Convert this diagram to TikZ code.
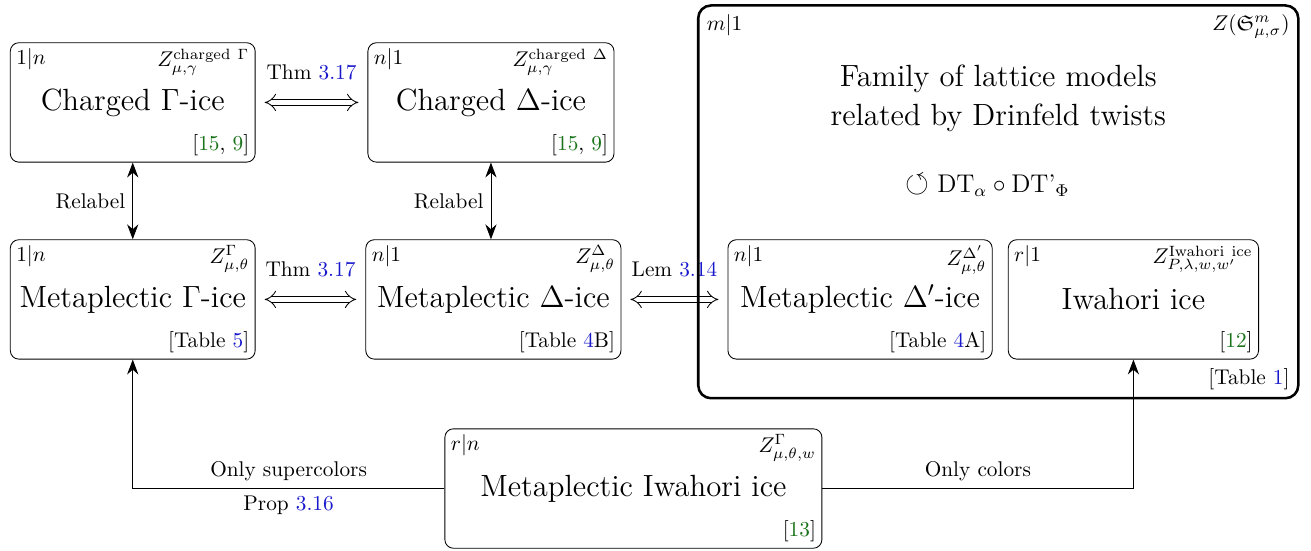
\documentclass[tikz,border=0pt]{standalone}
\usepackage{amsmath,amssymb}
\usetikzlibrary{arrows.meta}
\definecolor{refblue}{rgb}{0.1,0.1,0.8}
\definecolor{citegreen}{rgb}{0.1,0.45,0.1}
\newcommand{\lnk}[1]{\textcolor{refblue}{#1}}
\newcommand{\cit}[1]{\textcolor{citegreen}{#1}}
\begin{document}
\begin{tikzpicture}
            [
                model/.style={rectangle, draw=black, rounded corners, minimum height=1.97cm, font=\Large},
                corner/.style={inner sep=2.8pt},
                equiv/.style={double, double distance=2.5pt, {Implies}-{Implies}, shorten <=0.15cm, shorten >=0.15cm},
                link/.style={-{Stealth[length=7pt]}}
            ]
            \useasboundingbox (0,0) rectangle (21.63,9.08);
            % Charged Gamma
            \node[model, minimum width=4.04cm] (chG) at (2.19,7.39) {Charged $\Gamma$-ice};
            \node[corner, anchor=north west] (chGa) at (chG.north west) {$1|n$};
            \node[corner, anchor=north east] (chGz) at (chG.north east) {$Z^{\mathrm{charged}\ \Gamma}_{\mu,\gamma}$};
            \node[corner, anchor=south east] (chGr) at (chG.south east) {[\cit{15}, \cit{9}]};
            % Charged Delta
            \node[model, minimum width=4.06cm] (chD) at (8.10,7.39) {Charged $\Delta$-ice};
            \node[corner, anchor=north west] (chDa) at (chD.north west) {$n|1$};
            \node[corner, anchor=north east] (chDz) at (chD.north east) {$Z^{\mathrm{charged}\ \Delta}_{\mu,\gamma}$};
            \node[corner, anchor=south east] (chDr) at (chD.south east) {[\cit{15}, \cit{9}]};
            % Metaplectic Gamma
            \node[model, minimum width=4.04cm] (mG) at (2.19,4.14) {Metaplectic $\Gamma$-ice};
            \node[corner, anchor=north west] (mGa) at (mG.north west) {$1|n$};
            \node[corner, anchor=north east] (mGz) at (mG.north east) {$Z^{\Gamma}_{\mu,\theta}$};
            \node[corner, anchor=south east] (mGr) at (mG.south east) {[Table \lnk{5}]};
            % Metaplectic Delta
            \node[model, minimum width=4.21cm] (mD) at (8.14,4.14) {Metaplectic $\Delta$-ice};
            \node[corner, anchor=north west] (mDa) at (mD.north west) {$n|1$};
            \node[corner, anchor=north east] (mDz) at (mD.north east) {$Z^{\Delta}_{\mu,\theta}$};
            \node[corner, anchor=south east] (mDr) at (mD.south east) {[Table \lnk{4}B]};
            % Metaplectic Delta'
            \node[model, minimum width=4.36cm] (mDp) at (14.19,4.14) {Metaplectic $\Delta'$-ice};
            \node[corner, anchor=north west] (mDpa) at (mDp.north west) {$n|1$};
            \node[corner, anchor=north east] (mDpz) at (mDp.north east) {$Z^{\Delta'}_{\mu,\theta}$};
            \node[corner, anchor=south east] (mDpr) at (mDp.south east) {[Table \lnk{4}A]};
            % Iwahori
            \node[model, minimum width=4.13cm] (iw) at (18.70,4.14) {Iwahori ice};
            \node[corner, anchor=north west] (iwa) at (iw.north west) {$r|1$};
            \node[corner, anchor=north east] (iwz) at (iw.north east) {$Z^{\mathrm{Iwahori\ ice}}_{P,\lambda,w,w'}$};
            \node[corner, anchor=south east] (iwr) at (iw.south east) {[\cit{12}]};
            % Metaplectic Iwahori
            \node[model, minimum width=6.22cm] (mI) at (10.45,1.02) {Metaplectic Iwahori ice};
            \node[corner, anchor=north west] (mIa) at (mI.north west) {$r|n$};
            \node[corner, anchor=north east] (mIz) at (mI.north east) {$Z^{\Gamma}_{\mu,\theta,w}$};
            \node[corner, anchor=south east] (mIr) at (mI.south east) {[\cit{13}]};
            % relations
            \draw[link, {Stealth[length=7pt]}-{Stealth[length=7pt]}] (chG) -- node[left] {Relabel} (mG);
            \draw[link, {Stealth[length=7pt]}-{Stealth[length=7pt]}] (chD) -- node[left] {Relabel} (chD |- mD.north);
            \draw[equiv] (chG) -- node[above=7pt] {Thm \lnk{3.17}} (chD);
            \draw[equiv] (mG) -- node[above=7pt] {Thm \lnk{3.17}} (mD);
            \draw[equiv] (mD) -- node[above=7pt] {Lem \lnk{3.14}} (mDp);
            \draw[link] (mI.west) -| node[pos=0.25, above] {Only supercolors} node[pos=0.25, below] {Prop \lnk{3.16}} (mG.south);
            \draw[link] (mI.east) -| node[pos=0.25, above] {Only colors} (iw.south);
            % Drinfeld family
            \node[rectangle, draw=black, very thick, rounded corners=6pt, minimum width=9.9cm, minimum height=6.48cm] (fam) at (16.47,5.75) {};
            \node[corner, inner sep=4.5pt, anchor=north west] (fama) at (fam.north west) {$m|1$};
            \node[corner, inner sep=4.5pt, anchor=north east] (famz) at (fam.north east) {$Z(\mathfrak{S}^{m}_{\mu,\sigma})$};
            \node[corner, inner sep=4.5pt, anchor=south east] (famr) at (fam.south east) {[Table \lnk{1}]};
            \node[font=\Large, align=center] (famt) at (16.47,7.46) {Family of lattice models\\related by Drinfeld twists};
            \node[font=\large] (famdt) at (16.29,6.02) {$\text{\Large$\circlearrowleft$}\ \mathrm{DT}_\alpha\circ\mathrm{DT}\text{'}_\Phi$};
\end{tikzpicture}
\end{document}
